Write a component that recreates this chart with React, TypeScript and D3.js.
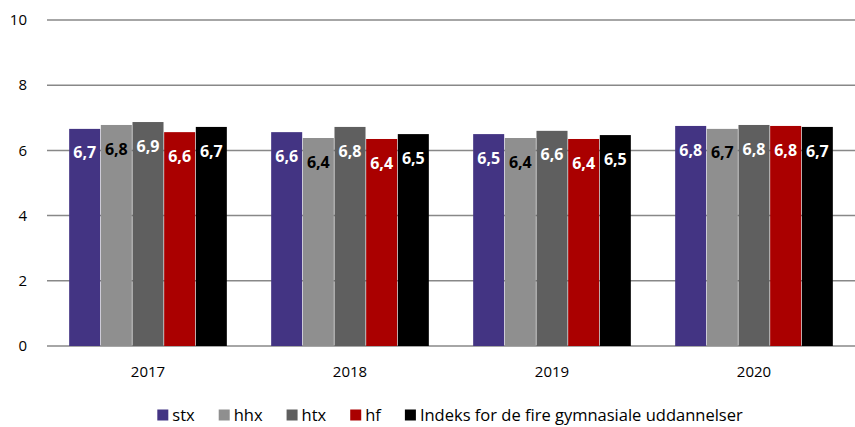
import React, { useEffect, useRef } from 'react';
import * as d3 from 'd3';

const years = ['2017', '2018', '2019', '2020'];
const series = ['stx', 'hhx', 'htx', 'hf', 'Indeks for de fire gymnasiale uddannelser'];
const colors = ['#433483', '#8f8f8f', '#5f5f5f', '#aa0000', '#000000'];
const labelColors = ['#ffffff', '#000000', '#ffffff', '#ffffff', '#ffffff'];
const stx = [6.66, 6.56, 6.5, 6.75];
const hhx = [6.78, 6.38, 6.38, 6.66];
const htx = [6.87, 6.72, 6.6, 6.78];
const hf = [6.56, 6.35, 6.35, 6.75];
const indeks = [6.72, 6.5, 6.47, 6.72];
const labels = [
  ['6,7', '6,6', '6,5', '6,8'],
  ['6,8', '6,4', '6,4', '6,7'],
  ['6,9', '6,8', '6,6', '6,8'],
  ['6,6', '6,4', '6,4', '6,8'],
  ['6,7', '6,5', '6,5', '6,7'],
];
const yTicks = [0, 2, 4, 6, 8, 10];

const App: React.FC = () => {
  const ref = useRef<SVGSVGElement | null>(null);

  useEffect(() => {
    if (!ref.current) return;
    const values = [stx, hhx, htx, hf, indeks];
    const width = 855;
    const height = 427;
    const margin = { top: 20, right: 0, bottom: 81, left: 47 };
    const font = '"Open Sans", Lato, sans-serif';

    const svg = d3.select(ref.current);
    svg.selectAll('*').remove();

    const x = d3.scaleBand().domain(years).range([margin.left, width - margin.right]).paddingInner(0).paddingOuter(0);
    const xs = d3.scaleBand().domain(series).range([0, x.bandwidth()]).paddingOuter(0.7).paddingInner(0.02);
    const y = d3.scaleLinear().domain([0, 10]).range([height - margin.bottom, margin.top]);

    // gridlines
    svg.append('g')
      .selectAll('line')
      .data(yTicks)
      .enter()
      .append('line')
      .attr('x1', margin.left)
      .attr('x2', width - margin.right)
      .attr('y1', d => y(d))
      .attr('y2', d => y(d))
      .attr('stroke', '#888888')
      .attr('stroke-width', 1.5);

    svg.append('g')
      .selectAll('text')
      .data(yTicks)
      .enter()
      .append('text')
      .attr('x', 27)
      .attr('y', d => y(d))
      .attr('dy', '0.35em')
      .attr('text-anchor', 'end')
      .attr('font-family', font)
      .attr('font-size', 15)
      .attr('fill', '#000')
      .text(d => d);

    // bars
    series.forEach((s, si) => {
      const g = svg.append('g');
      g.selectAll('rect')
        .data(values[si])
        .enter()
        .append('rect')
        .attr('x', (_, i) => (x(years[i]) as number) + (xs(s) as number))
        .attr('y', d => y(d))
        .attr('width', xs.bandwidth())
        .attr('height', d => y(0) - y(d))
        .attr('fill', colors[si]);
      g.selectAll('text')
        .data(values[si])
        .enter()
        .append('text')
        .attr('x', (_, i) => (x(years[i]) as number) + (xs(s) as number) + xs.bandwidth() / 2)
        .attr('y', d => y(d) + 24)
        .attr('dy', '0.35em')
        .attr('text-anchor', 'middle')
        .attr('font-family', font)
        .attr('font-weight', 'bold')
        .attr('font-size', 16)
        .attr('fill', labelColors[si])
        .text((_, i) => labels[si][i]);
    });

    // x labels
    svg.append('g')
      .selectAll('text')
      .data(years)
      .enter()
      .append('text')
      .attr('x', d => (x(d) as number) + x.bandwidth() / 2)
      .attr('y', 372)
      .attr('dy', '0.35em')
      .attr('text-anchor', 'middle')
      .attr('font-family', font)
      .attr('font-size', 15)
      .attr('fill', '#000')
      .text(d => d);

    // legend
    const legend = svg.append('g');
    let cx = 0;
    series.forEach((s, si) => {
      const item = legend.append('g').attr('transform', `translate(${cx},0)`);
      item.append('rect').attr('x', 0).attr('y', -5.5).attr('width', 11).attr('height', 11).attr('fill', colors[si]);
      const t = item.append('text')
        .attr('x', 15)
        .attr('y', 0)
        .attr('dy', '0.35em')
        .attr('font-family', font)
        .attr('font-size', 16.5)
        .attr('fill', '#000')
        .text(s);
      const w = (t.node() as SVGTextElement).getComputedTextLength();
      cx += 15 + w + 24;
    });
    const total = cx - 24;
    legend.attr('transform', `translate(${450 - total / 2},415)`);
  }, []);

  return <svg ref={ref} width={855} height={427} style={{ position: 'absolute', left: 0, top: 0 }} />;
};

export default App;
